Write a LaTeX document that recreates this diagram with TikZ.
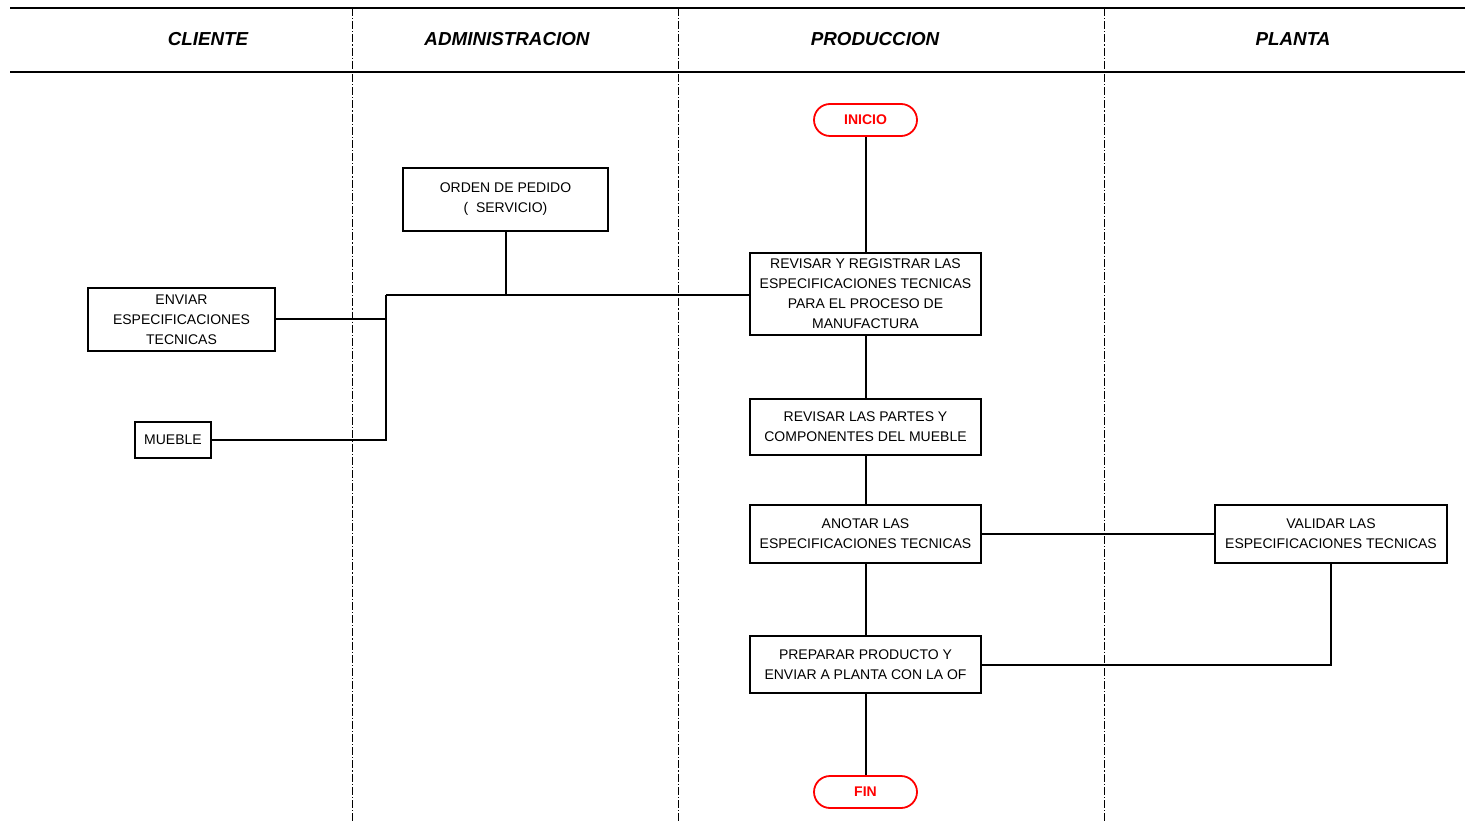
\documentclass[tikz,border=0pt]{standalone}
\usepackage{fontspec}
\setmainfont{Liberation Sans}
\begin{document}
\begin{tikzpicture}[x=0.5pt,y=-0.5pt,
  lane/.style={line width=0.5pt,dash pattern=on 4pt off 1pt on 0.6pt off 1pt},
  rule/.style={line width=1pt},
  head/.style={font=\fontsize{9.4}{11}\selectfont\bfseries\itshape},
  proc/.style={draw,line width=0.9pt,inner sep=0pt,align=center,
    font=\fontsize{7}{10}\selectfont},
  term/.style={draw=red,text=red,line width=0.9pt,rounded corners=8pt,
    minimum width=51.5pt,minimum height=16pt,inner sep=0pt,
    font=\fontsize{7}{9}\selectfont\bfseries},
  link/.style={line width=1pt}]
\useasboundingbox (0,0) rectangle (1465,823);
% swimlane frame
\draw[rule] (10,8) -- (1465,8);
\draw[rule] (10,72) -- (1465,72);
\foreach \xx in {352,678,1104} \draw[lane] (\xx,8) -- (\xx,823);
\node[head] (hcli) at (208,39) {CLIENTE};
\node[head] (hadm) at (507,39) {ADMINISTRACION};
\node[head] (hpro) at (875,39) {PRODUCCION};
\node[head] (hpla) at (1293,39) {PLANTA};
% activities
\node[term] (ini) at (865.5,120) {INICIO};
\node[proc,minimum width=102.5pt,minimum height=31.5pt] (ord) at (505.5,199.5) {ORDEN DE PEDIDO\\(\ \ SERVICIO)};
\node[proc,minimum width=115.5pt,minimum height=41pt] (rev) at (865.5,294) {REVISAR Y REGISTRAR LAS\\ESPECIFICACIONES TECNICAS\\PARA EL PROCESO DE\\MANUFACTURA};
\node[proc,minimum width=93.5pt,minimum height=31.5pt] (env) at (181.5,319.5) {ENVIAR\\ESPECIFICACIONES\\TECNICAS};
\node[proc,minimum width=38pt,minimum height=18pt] (mue) at (173,440) {MUEBLE};
\node[proc,minimum width=115.5pt,minimum height=28pt] (par) at (865.5,427) {REVISAR LAS PARTES Y\\COMPONENTES DEL MUEBLE};
\node[proc,minimum width=115.5pt,minimum height=29pt] (ano) at (865.5,534) {ANOTAR LAS\\ESPECIFICACIONES TECNICAS};
\node[proc,minimum width=116pt,minimum height=29pt] (val) at (1331,534) {VALIDAR LAS\\ESPECIFICACIONES TECNICAS};
\node[proc,minimum width=115.5pt,minimum height=28.5pt] (pre) at (865.5,664.5) {PREPARAR PRODUCTO Y\\ENVIAR A PLANTA CON LA OF};
\node[term] (fin) at (865.5,792) {FIN};
% connectors
\coordinate (j) at (386,295);
\draw[link] (ini) -- (rev);
\draw[link] (ord.south) -- (ord.south |- j);
\draw[link] (j) -- (rev.west |- j);
\draw[link] (j) |- (mue.east);
\draw[link] (env.east) -- (env.east -| j);
\draw[link] (rev) -- (par);
\draw[link] (par) -- (ano);
\draw[link] (ano) -- (pre);
\draw[link] (pre) -- (fin);
\draw[link] (ano) -- (val);
\draw[link] (val.south) |- (pre.east);
\end{tikzpicture}
\end{document}
